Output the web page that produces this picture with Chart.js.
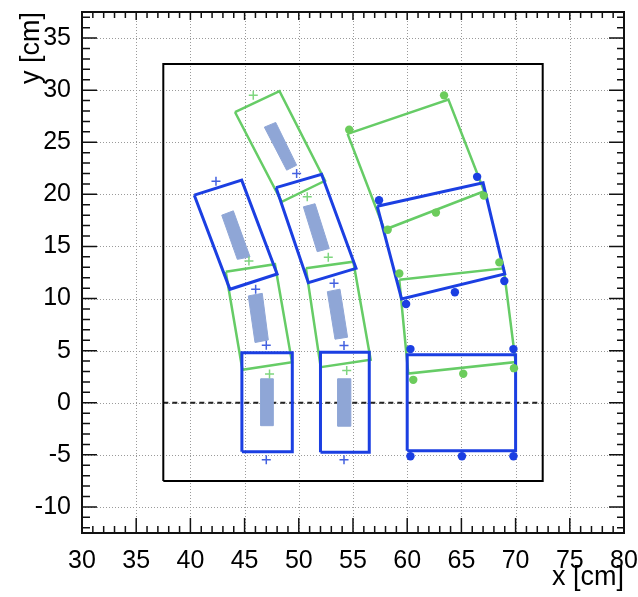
<!DOCTYPE html>
<html>
<head>
<meta charset="utf-8">
<script src="https://cdn.jsdelivr.net/npm/chart.js@4"></script>
<style>
  body { margin: 0; background: #fff; }
</style>
</head>
<body>
<canvas id="chart" width="638" height="597"></canvas>
<script>
// axis ranges and labelled ticks (cm)
const xRange = [30, 80];
const yRange = [-12.5, 37.5];
const xTicks = [30, 35, 40, 45, 50, 55, 60, 65, 70, 75, 80];
const yTicks = [-10, -5, 0, 5, 10, 15, 20, 25, 30, 35];

// outer frame and the y = 0 reference line
const frame = [[37.5, -7.5], [72.5, -7.5], [72.5, 32.5], [37.5, 32.5]];
const baseline = [[37.5, 0], [72.5, 0]];

// module outlines, corners in cm
const blueBoxes = [
  [[44.75, -4.7], [49.4, -4.7], [49.4, 4.8], [44.75, 4.8]],
  [[52.0, -4.75], [56.5, -4.75], [56.5, 4.85], [52.0, 4.85]],
  [[40.36, 19.92], [44.73, 21.36], [48.0, 12.36], [43.65, 10.89]],
  [[47.9, 20.65], [52.1, 21.93], [55.28, 12.9], [50.88, 11.52]],
  [[60.0, -4.6], [70.0, -4.6], [70.0, 4.6], [60.0, 4.6]],
  [[57.24, 18.85], [67.0, 21.1], [69.0, 12.36], [59.48, 9.96]]
];
const greenBoxes = [
  [[43.26, 12.58], [47.8, 13.3], [49.37, 3.9], [44.8, 3.16]],
  [[44.11, 27.9], [48.22, 29.9], [52.42, 21.3], [48.42, 19.28]],
  [[50.66, 12.9], [55.03, 13.53], [56.63, 4.12], [52.02, 3.42]],
  [[59.27, 11.8], [68.9, 12.9], [70.0, 3.9], [60.1, 2.8]],
  [[54.5, 25.8], [63.8, 29.1], [67.1, 20.3], [57.9, 16.6]]
];

// sensor bars
const bars = [
  [[46.5, -2.2], [47.65, -2.2], [47.65, 2.3], [46.5, 2.3]],
  [[45.34, 10.25], [46.63, 10.5], [47.19, 6.03], [45.96, 5.78]],
  [[42.89, 18.0], [43.96, 18.42], [45.5, 14.0], [44.33, 13.76]],
  [[46.82, 26.45], [47.87, 26.9], [49.8, 22.8], [48.88, 22.32]],
  [[50.42, 18.8], [51.5, 19.1], [52.81, 14.8], [51.7, 14.5]],
  [[52.63, 10.66], [53.8, 10.9], [54.5, 6.29], [53.34, 6.1]],
  [[53.6, -2.25], [54.8, -2.25], [54.8, 2.3], [53.6, 2.3]]
];

// reference markers
const blueCrosses = [[47.0, -5.46], [47.0, 5.52], [46.02, 10.9], [42.36, 21.26],
                     [49.8, 22.0], [53.25, 11.47], [54.17, 5.49], [54.17, -5.46]];
const greenCrosses = [[47.3, 2.75], [45.4, 13.6], [45.8, 29.5], [50.78, 19.76],
                      [52.72, 13.96], [54.42, 3.1]];
const blueDots = [[60.3, -5.14], [65.05, -5.14], [69.8, -5.14], [60.3, 5.15], [69.8, 5.15],
                  [59.9, 9.48], [64.4, 10.6], [68.96, 11.68], [57.4, 19.44], [66.45, 21.68]];
const greenDots = [[60.56, 2.2], [65.17, 2.78], [69.85, 3.32], [59.27, 12.4], [68.5, 13.47],
                   [58.2, 16.6], [62.65, 18.25], [67.07, 19.88], [54.65, 26.2], [63.4, 29.5]];

const BLUE = '#1b3fe2';
const GREEN = '#66cc66';
const BAR = '#8fa6d6';

const pts = arr => arr.map(([x, y]) => ({ x, y }));
const closed = arr => pts(arr.concat([arr[0]]));

function outline(corners, color, width, order) {
  return {
    data: closed(corners), showLine: true, fill: false,
    borderColor: color, borderWidth: width, pointRadius: 0, order
  };
}

function markers(arr, color, style, radius, width) {
  return {
    data: pts(arr), showLine: false, pointStyle: style, pointRadius: radius,
    backgroundColor: color, borderColor: color, pointBorderWidth: width, order: 0
  };
}

const datasets = [];
datasets.push(outline(frame, '#000', 2, 4));
datasets.push({
  data: pts(baseline), showLine: true, fill: false, borderColor: '#222',
  borderWidth: 2, borderDash: [5, 4], pointRadius: 0, order: 4
});
bars.forEach(b => datasets.push({
  data: closed(b), showLine: true, fill: 'shape', backgroundColor: BAR,
  borderColor: BAR, borderWidth: 1, pointRadius: 0, order: 3
}));
greenBoxes.forEach(b => datasets.push(outline(b, GREEN, 2.5, 2)));
blueBoxes.forEach(b => datasets.push(outline(b, BLUE, 3, 1)));
datasets.push(markers(blueCrosses, '#4461e0', 'cross', 4.5, 1.5));
datasets.push(markers(greenCrosses, '#7fd67f', 'cross', 4.5, 1.5));
datasets.push(markers(blueDots, BLUE, 'circle', 4.2, 0));
datasets.push(markers(greenDots, '#6ccc5c', 'circle', 4.2, 0));

// dotted grid underneath, ROOT style frame with inward ticks on top
const frameAxes = {
  id: 'frameAxes',
  beforeDatasetsDraw(chart) {
    const { ctx, chartArea: a, scales: { x, y } } = chart;
    ctx.save();
    ctx.strokeStyle = '#9a9a9a';
    ctx.lineWidth = 1;
    ctx.setLineDash([1, 2]);
    xTicks.filter(v => v > xRange[0] && v < xRange[1]).forEach(v => {
      const px = Math.round(x.getPixelForValue(v)) + 0.5;
      ctx.beginPath(); ctx.moveTo(px, a.top); ctx.lineTo(px, a.bottom); ctx.stroke();
    });
    yTicks.filter(v => v > yRange[0] && v < yRange[1]).forEach(v => {
      const py = Math.round(y.getPixelForValue(v)) + 0.5;
      ctx.beginPath(); ctx.moveTo(a.left, py); ctx.lineTo(a.right, py); ctx.stroke();
    });
    ctx.restore();
  },
  afterDatasetsDraw(chart) {
    const { ctx, chartArea: a, scales: { x, y } } = chart;
    ctx.save();
    ctx.strokeStyle = '#111';
    ctx.lineWidth = 1.5;
    ctx.beginPath();
    for (let v = Math.ceil(xRange[0]); v <= xRange[1]; v++) {
      const major = v % 5 === 0;
      const px = x.getPixelForValue(v);
      ctx.moveTo(px, a.bottom); ctx.lineTo(px, a.bottom - (major ? 15 : 7));
      ctx.moveTo(px, a.top); ctx.lineTo(px, a.top + (major ? 8 : 6));
    }
    for (let v = Math.ceil(yRange[0]); v <= yRange[1]; v++) {
      const major = v % 5 === 0;
      const py = y.getPixelForValue(v);
      ctx.moveTo(a.left, py); ctx.lineTo(a.left + (major ? 15 : 8), py);
      ctx.moveTo(a.right, py); ctx.lineTo(a.right - (major ? 15 : 7), py);
    }
    ctx.stroke();
    ctx.lineWidth = 2;
    ctx.strokeRect(a.left, a.top, a.right - a.left, a.bottom - a.top);
    ctx.restore();
  }
};

const tickFont = { family: 'Liberation Sans, Arial, sans-serif', size: 25 };
const titleFont = { family: 'Liberation Sans, Arial, sans-serif', size: 27 };

new Chart(document.getElementById('chart'), {
  type: 'scatter',
  data: { datasets },
  options: {
    responsive: false,
    animation: false,
    layout: { padding: { top: 12, right: 14, left: 0, bottom: 0 } },
    plugins: { legend: { display: false }, tooltip: { enabled: false } },
    scales: {
      x: {
        type: 'linear', min: xRange[0], max: xRange[1],
        grid: { display: false }, border: { display: false },
        afterBuildTicks: s => { s.ticks = xTicks.map(v => ({ value: v })); },
        afterFit: s => { s.height = 64; s.paddingLeft = 0; s.paddingRight = 0; },
        ticks: { color: '#000', font: tickFont, padding: 5, maxRotation: 0, autoSkip: false },
        title: { display: true, text: 'x [cm]', align: 'end', color: '#000',
                 font: titleFont, padding: { top: 0, bottom: 3 } }
      },
      y: {
        type: 'linear', min: yRange[0], max: yRange[1],
        grid: { display: false }, border: { display: false },
        afterBuildTicks: s => { s.ticks = yTicks.map(v => ({ value: v })); },
        afterFit: s => { s.width = 82; s.paddingTop = 0; s.paddingBottom = 0; },
        ticks: { color: '#000', font: tickFont, padding: 3, autoSkip: false },
        title: { display: true, text: 'y [cm]', align: 'end', color: '#000',
                 font: titleFont, padding: { top: 15, bottom: 0 } }
      }
    }
  },
  plugins: [frameAxes]
});
</script>
</body>
</html>
